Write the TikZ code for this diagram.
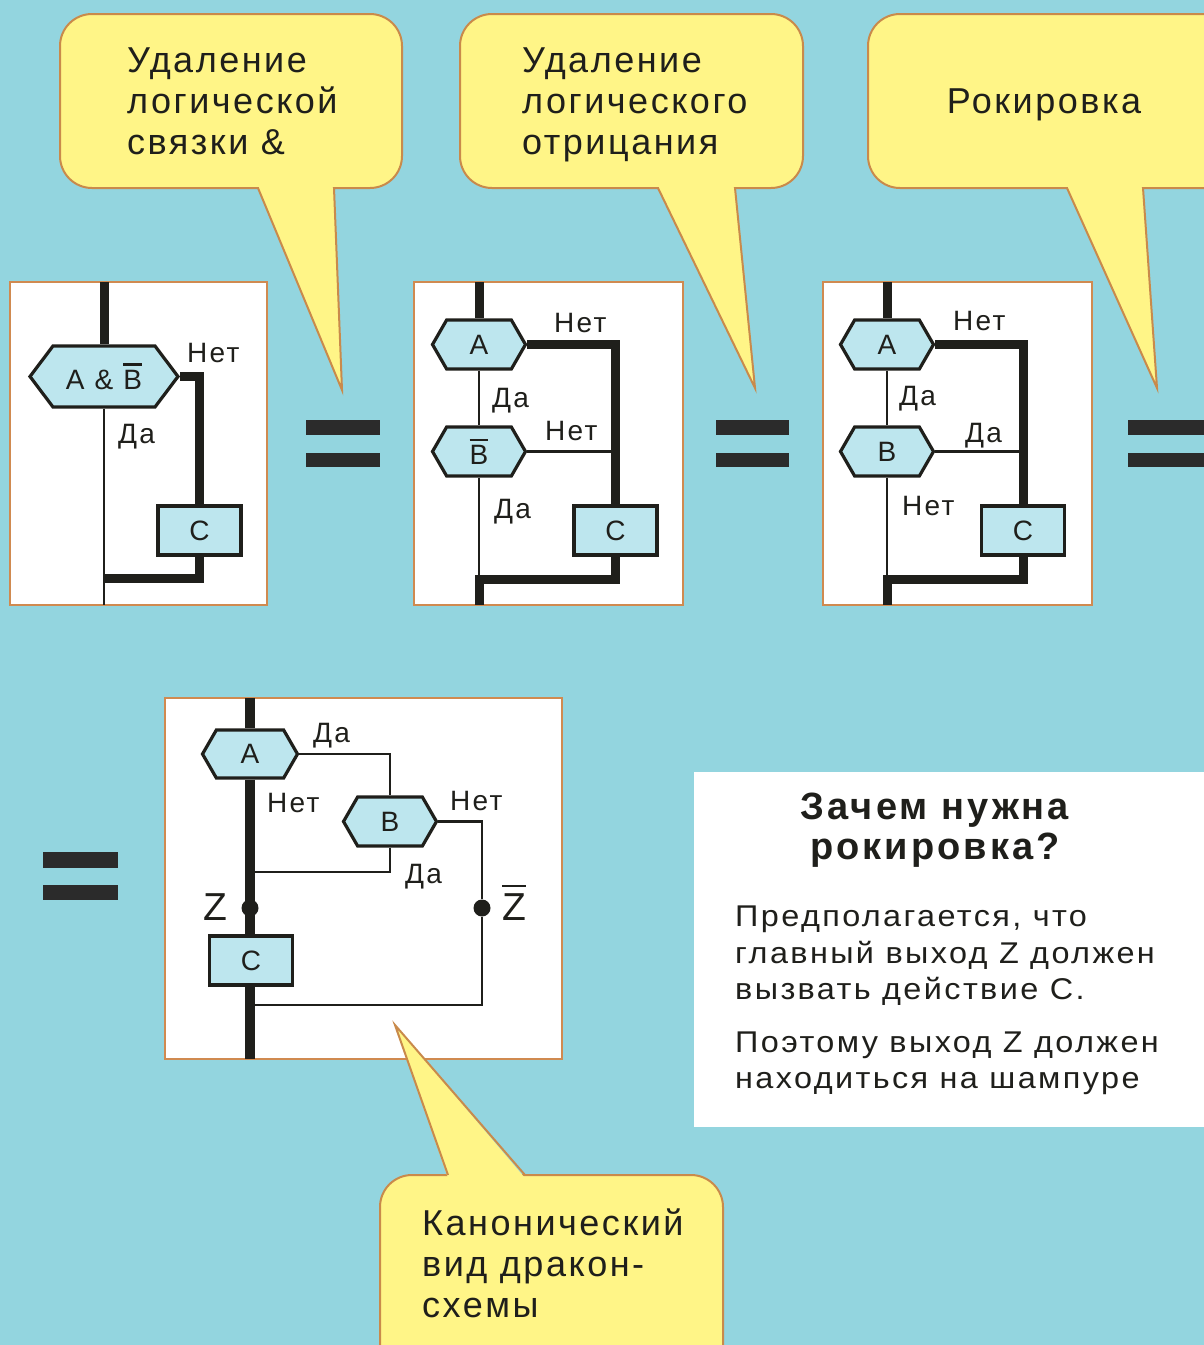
\documentclass[tikz,border=0pt]{standalone}
\usepackage{fontspec}
\setmainfont{Liberation Sans}
\newfontfamily\calloutfont[LetterSpace=7]{Liberation Sans}
\newfontfamily\labelfont[LetterSpace=8]{Liberation Sans}
\newfontfamily\infofont[LetterSpace=8,FakeStretch=1.08]{Liberation Sans}
\newfontfamily\titlefont[LetterSpace=8]{Liberation Sans}
\usetikzlibrary{shapes.symbols}

\pgfdeclarelayer{bg}
\pgfdeclarelayer{lines}
\pgfdeclarelayer{front}
\pgfsetlayers{bg,lines,main,front}

\definecolor{sky}{HTML}{93D5DF}
\definecolor{note}{HTML}{FFF587}
\definecolor{noteedge}{HTML}{C98A4B}
\definecolor{frameedge}{HTML}{D08A50}
\definecolor{iconfill}{HTML}{BDE6EE}
\definecolor{ink}{HTML}{1F1F1B}
\definecolor{eqink}{HTML}{2B2B2B}

% letter with a negation bar above it
\newsavebox\negbox
\newcommand\negbar[2][5pt]{\leavevmode\sbox\negbox{#2}%
  \rlap{\raisebox{\dimexpr\ht\negbox+#1\relax}{\rule{\wd\negbox}{2.6pt}}}\usebox\negbox}

\tikzset{
  hexnode/.style={signal, signal to=east and west, signal pointer angle=120,
    draw=ink, line width=3.2pt, fill=iconfill, inner sep=0pt,
    minimum width=93pt, minimum height=49pt, text=ink,
    font=\labelfont\fontsize{28}{30}\selectfont},
  actbox/.style={rectangle, draw=ink, line width=3.2pt, fill=iconfill, inner sep=0pt,
    minimum width=83pt, minimum height=49pt, text=ink,
    font=\labelfont\fontsize{28}{30}\selectfont},
  dot/.style={circle, fill=ink, inner sep=0pt, minimum size=17pt},
  lbl/.style={anchor=base west, inner sep=0pt, text=ink,
    font=\labelfont\fontsize{28}{30}\selectfont},
  zlbl/.style={anchor=base west, inner sep=0pt, text=ink,
    font=\labelfont\fontsize{39}{40}\selectfont},
  thickline/.style={draw=ink, line width=9pt},
  spineline/.style={draw=ink, line width=10pt},
  thinline/.style={draw=ink, line width=2.8pt},
  frame/.style={fill=white, draw=frameedge, line width=2pt},
  callout/.style={fill=note, draw=noteedge, line width=2pt},
  callouttext/.style={anchor=north west, inner sep=0pt, align=left, text=ink,
    font=\calloutfont\fontsize{36}{41}\selectfont},
  eqbar/.style={fill=eqink},
}

\begin{document}
\begin{tikzpicture}[x=1pt, y=-1pt]
\clip (0,0) rectangle (1204,1345);

\begin{pgfonlayer}{bg}
  \fill[sky] (0,0) rectangle (1204,1345);
  % panels
  \draw[frame] (10,282) rectangle (267,605);
  \draw[frame] (414,282) rectangle (683,605);
  \draw[frame] (823,282) rectangle (1092,605);
  \draw[frame] (165,698) rectangle (562,1059);
  % equality signs
  \fill[eqbar] (306,420) rectangle (380,435);
  \fill[eqbar] (306,453) rectangle (380,467);
  \fill[eqbar] (716,420) rectangle (789,435);
  \fill[eqbar] (716,453) rectangle (789,467);
  \fill[eqbar] (1128,420) rectangle (1215,435);
  \fill[eqbar] (1128,453) rectangle (1215,467);
  \fill[eqbar] (43,852) rectangle (118,868);
  \fill[eqbar] (43,885) rectangle (118,900);
  % explanation panel
  \fill[white] (694,772) rectangle (1215,1127);
\end{pgfonlayer}

% ---------- panel 1: A & not B ----------
\coordinate (t1) at (104,282);
\coordinate (j1) at (104,578);
\coordinate (b1) at (104,605);
\node[hexnode, minimum width=148pt, minimum height=61pt, signal pointer angle=106]
  (h1) at (104,376.5) {A \& \negbar{B}};
\node[actbox] (c1) at (199.5,530.5) {C};
\node[lbl] (n1) at (187,362) {Нет};
\node[lbl] (y1) at (118,443) {Да};
\begin{pgfonlayer}{lines}
  \draw[thickline] (t1) -- (h1.north);
  \draw[thickline] (h1.east) -| (c1.north);
  \draw[thickline] (c1.south) |- (j1);
  \draw[thinline] (h1.south) -- (b1);
\end{pgfonlayer}

% ---------- panel 2: A, not B ----------
\coordinate (t2) at (479,282);
\coordinate (j2) at (479,579);
\coordinate (b2) at (479,605);
\node[hexnode] (a2) at (479,344.5) {A};
\node[hexnode] (nb2) at (479,451.5) {\negbar[4pt]{B}};
\node[actbox] (c2) at (615.5,530.5) {C};
\node[lbl] at (554,332) {Нет};
\node[lbl] at (492,407) {Да};
\node[lbl] at (545,440) {Нет};
\node[lbl] at (494,518) {Да};
\begin{pgfonlayer}{lines}
  \draw[thickline] (t2) -- (a2.north);
  \draw[thickline] (a2.east) -| (c2.north);
  \draw[thinline] (a2.south) -- (nb2.north);
  \draw[thinline] (nb2.east) -- (nb2.east -| c2.north);
  \draw[thinline] (nb2.south) -- (j2);
  \draw[thickline] (c2.south) |- (j2) -- (b2);
\end{pgfonlayer}

% ---------- panel 3: castling ----------
\coordinate (t3) at (887,282);
\coordinate (j3) at (887,579);
\coordinate (b3) at (887,605);
\node[hexnode] (a3) at (887,344.5) {A};
\node[hexnode] (bb3) at (887,451.5) {B};
\node[actbox] (c3) at (1023,530.5) {C};
\node[lbl] at (953,330) {Нет};
\node[lbl] at (899,405) {Да};
\node[lbl] at (965,442) {Да};
\node[lbl] at (902,515) {Нет};
\begin{pgfonlayer}{lines}
  \draw[thickline] (t3) -- (a3.north);
  \draw[thickline] (a3.east) -| (c3.north);
  \draw[thinline] (a3.south) -- (bb3.north);
  \draw[thinline] (bb3.east) -- (bb3.east -| c3.north);
  \draw[thinline] (bb3.south) -- (j3);
  \draw[thickline] (c3.south) |- (j3) -- (b3);
\end{pgfonlayer}

% ---------- panel 4: canonical form ----------
\coordinate (t4) at (250,698);
\coordinate (b4) at (250,1059);
\coordinate (j4a) at (250,872);
\coordinate (j4b) at (250,1005);
\node[hexnode, minimum width=95pt, minimum height=48pt] (a4) at (250,754) {A};
\node[hexnode] (bb4) at (390,821.5) {B};
\node[actbox] (c4) at (251,960.5) {C};
\node[dot] (z1) at (250,908) {};
\node[dot] (z2) at (482,908) {};
\node[zlbl] at (203,920) {Z};
\node[zlbl] at (502,920) {\negbar[6pt]{Z}};
\node[lbl] at (313,742) {Да};
\node[lbl] at (267,812) {Нет};
\node[lbl] at (450,810) {Нет};
\node[lbl] at (405,883) {Да};
\begin{pgfonlayer}{lines}
  \draw[spineline] (t4) -- (a4.north);
  \draw[spineline] (a4.south) -- (a4.south |- c4.north);
  \draw[spineline] (a4.south |- c4.south) -- (b4);
  \draw[thinline] (a4.east) -| (bb4.north);
  \draw[thinline] (bb4.south) |- (j4a);
  \draw[thinline] (bb4.east) -| (z2);
  \draw[thinline] (z2) |- (j4b);
\end{pgfonlayer}

% ---------- callouts ----------
\begin{pgfonlayer}{front}
  \draw[callout] (368,188) [rounded corners=32] -- (402,188) -- (402,14) -- (60,14)
    -- (60,188) -- (160,188) [sharp corners] -- (258,188) -- (342,390) -- (334,188) -- cycle;
  \node[callouttext] (k1) at (127,48) {Удаление\\логической\\связки \&};

  \draw[callout] (770,188) [rounded corners=32] -- (803,188) -- (803,14) -- (460,14)
    -- (460,188) -- (560,188) [sharp corners] -- (658,188) -- (755,388) -- (735,188) -- cycle;
  \node[callouttext] (k2) at (522,48) {Удаление\\логического\\отрицания};

  \draw[callout] (1190,188) [rounded corners=32] -- (1240,188) -- (1240,14) -- (868,14)
    -- (868,188) -- (960,188) [sharp corners] -- (1067,188) -- (1157,388) -- (1143,188) -- cycle;
  \node[callouttext, anchor=base] (k3) at (1044,113) {Рокировка};

  % bottom callout: rounded box with its pointer on the upper edge
  \draw[callout, rounded corners=32] (380,1175) rectangle (723,1390);
  \fill[note] (448,1178) -- (395,1025) -- (525,1178) -- cycle;
  \draw[noteedge, line width=2pt] (448,1175) -- (395,1025) -- (525,1175);
  \node[callouttext] (k4) at (422,1209) {Канонический\\вид дракон-\\схемы};

  % explanation
  \node[anchor=north, inner sep=0pt, align=center, text=ink,
    font=\titlefont\bfseries\fontsize{38}{40}\selectfont] (q) at (935,793)
    {Зачем нужна\\рокировка?};
  \node[anchor=north west, inner sep=0pt, align=left, text=ink,
    font=\infofont\fontsize{30}{36.5}\selectfont] (ans) at (735,906)
    {Предполагается, что\\главный выход Z должен\\вызвать действие С.\\[16pt]
     Поэтому выход Z должен\\находиться на шампуре};
\end{pgfonlayer}
\end{tikzpicture}
\end{document}
